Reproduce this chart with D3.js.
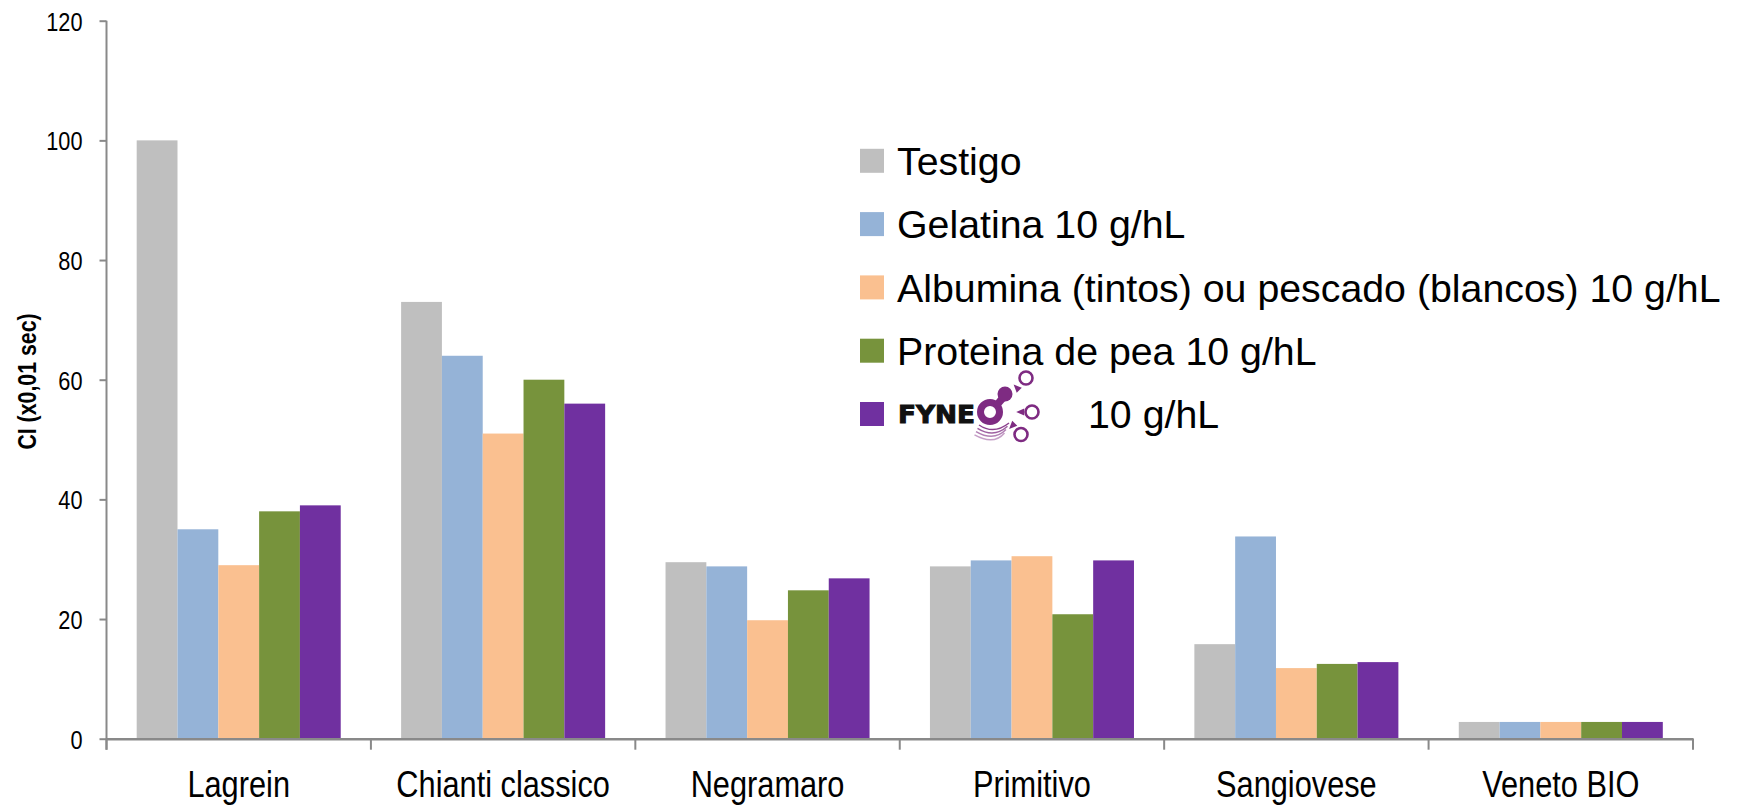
<!DOCTYPE html>
<html>
<head>
<meta charset="utf-8">
<script src="https://cdn.jsdelivr.net/npm/d3@7"></script>
<style>
  html, body { margin: 0; padding: 0; background: #fff; }
  svg { display: block; }
</style>
</head>
<body>
<svg id="chart" width="1741" height="805"></svg>
<script>
// Wine varieties on the x axis
const categories = ["Lagrein", "Chianti classico", "Negramaro", "Primitivo", "Sangiovese", "Veneto BIO"];

// Fining treatments (series)
const seriesNames = [
  "Testigo",
  "Gelatina 10 g/hL",
  "Albumina (tintos) ou pescado (blancos) 10 g/hL",
  "Proteina de pea 10 g/hL",
  "FYNEO 10 g/hL"
];
const seriesColors = ["#BFBFBF", "#95B3D7", "#FAC090", "#77933C", "#7030A0"];

// CI values (x0,01 sec) per variety, one array per treatment
const testigo   = [100, 73, 29.5, 28.8, 15.8, 2.8];
const gelatina  = [35, 64, 28.8, 29.8, 33.8, 2.8];
const albumina  = [29, 51, 19.8, 30.5, 11.8, 2.8];
const proteina  = [38, 60, 24.8, 20.8, 12.5, 2.8];
const fyneo     = [39, 56, 26.8, 29.8, 12.8, 2.8];

const yTicks = [0, 20, 40, 60, 80, 100, 120];
const yTitle = "CI (x0,01 sec)";

const seriesValues = [testigo, gelatina, albumina, proteina, fyneo];

const svg = d3.select("#chart");
const plotLeft = 106.5, plotRight = 1693, plotTop = 20.7, plotBottom = 738.7;
const axisColor = "#898989";
const NARROW = 0.82; // horizontal squeeze giving a narrow sans face

const x0 = d3.scaleBand().domain(categories).range([plotLeft, plotRight]).paddingInner(0).paddingOuter(0);
const x1 = d3.scaleBand().domain(d3.range(seriesNames.length))
  .range([0, x0.bandwidth()]).paddingInner(0).paddingOuter(0.74);
const y = d3.scaleLinear().domain([0, 120]).range([plotBottom, plotTop]);

// Bars
const groups = svg.append("g").selectAll("g")
  .data(categories)
  .join("g")
  .attr("transform", d => `translate(${x0(d)},0)`);

groups.selectAll("rect")
  .data((c, ci) => seriesValues.map((vals, si) => ({ si, v: vals[ci] })))
  .join("rect")
  .attr("x", d => x1(d.si))
  .attr("width", x1.bandwidth())
  .attr("y", d => y(d.v))
  .attr("height", d => y(0) - y(d.v))
  .attr("fill", d => seriesColors[d.si]);

// Y axis
const yAxis = svg.append("g")
  .attr("transform", `translate(${plotLeft},0)`)
  .call(d3.axisLeft(y).tickValues(yTicks).tickSize(7).tickSizeOuter(0).tickFormat(d3.format("d")));
yAxis.select(".domain").remove();
yAxis.selectAll(".tick line").attr("stroke", axisColor).attr("stroke-width", 2);
yAxis.selectAll(".tick text")
  .attr("x", 0)
  .attr("dy", "0.36em")
  .attr("transform", `translate(-24,0) scale(${NARROW},1)`)
  .attr("fill", "#000")
  .style("font-family", "'Liberation Sans', Arial, sans-serif")
  .style("font-size", "26.5px");
svg.append("line")
  .attr("x1", plotLeft).attr("x2", plotLeft)
  .attr("y1", y(120)).attr("y2", plotBottom + 11)
  .attr("stroke", axisColor).attr("stroke-width", 2);

// X axis
const xAxis = svg.append("g")
  .attr("transform", `translate(0,${plotBottom})`)
  .call(d3.axisBottom(x0).tickSize(0).tickSizeOuter(0).tickPadding(0));
xAxis.select(".domain").attr("stroke", axisColor).attr("stroke-width", 2.4);
xAxis.selectAll(".tick text")
  .attr("y", 0).attr("dy", 0)
  .attr("transform", `translate(0,58) scale(${NARROW},1)`)
  .attr("fill", "#000")
  .style("font-family", "'Liberation Sans', Arial, sans-serif")
  .style("font-size", "37.5px");
// boundary ticks between varieties
xAxis.append("g").selectAll("line")
  .data(categories.map(c => x0(c)).concat([plotRight]))
  .join("line")
  .attr("x1", d => d).attr("x2", d => d)
  .attr("y1", 0).attr("y2", 11)
  .attr("stroke", axisColor).attr("stroke-width", 2);

// Y axis title
svg.append("text")
  .attr("transform", `translate(35.5,381.5) rotate(-90) scale(${NARROW},1)`)
  .attr("text-anchor", "middle")
  .style("font-family", "'Liberation Sans', Arial, sans-serif")
  .style("font-weight", "bold")
  .style("font-size", "26px")
  .text(yTitle);

// Legend
const legend = svg.append("g").attr("transform", "translate(860,0)");
const rowY = d3.scaleLinear().domain([0, seriesNames.length - 1]).range([160.8, 414]);
seriesNames.forEach((name, i) => {
  const cy = rowY(i);
  legend.append("rect")
    .attr("x", 0).attr("y", cy - 12)
    .attr("width", 24).attr("height", 24)
    .attr("fill", seriesColors[i]);
  if (i < seriesNames.length - 1) {
    legend.append("text")
      .attr("x", 37).attr("y", cy + 14.3)
      .style("font-family", "'Liberation Sans', Arial, sans-serif")
      .style("font-size", "39.3px")
      .text(name);
  }
});

// FYNEO mark + dose in the last legend row
const lastY = rowY(seriesNames.length - 1);
const logo = svg.append("g").attr("transform", `translate(0,${lastY})`);
const logoPurple = "#7E2B82";
logo.append("text")
  .attr("x", 898).attr("y", 9)
  .attr("textLength", 77).attr("lengthAdjust", "spacingAndGlyphs")
  .style("font-family", "'DejaVu Sans', 'Liberation Sans', sans-serif")
  .style("font-weight", "bold")
  .style("font-size", "24px")
  .attr("stroke", "#111").attr("stroke-width", 1)
  .attr("fill", "#111")
  .text("FYNE");
// ring with attached ball
logo.append("circle").attr("cx", 990).attr("cy", -2).attr("r", 9.5)
  .attr("fill", "none").attr("stroke", logoPurple).attr("stroke-width", 7);
logo.append("path")
  .attr("d", "M993,-10 L1001,-20 L1007,-15 L999,-6 Z")
  .attr("fill", logoPurple);
logo.append("circle").attr("cx", 1005).attr("cy", -20).attr("r", 7.5).attr("fill", logoPurple);
// small rings and arrowheads
[[1026, -36, 1017, -26, 1], [1032, -2, 1021, -2, 0], [1021, 20.5, 1012.5, 11.5, -1]].forEach(([cx, cy, tx, ty, dir]) => {
  logo.append("circle").attr("cx", cx).attr("cy", cy).attr("r", 6.5)
    .attr("fill", "none").attr("stroke", logoPurple).attr("stroke-width", 2.6);
  const a = dir === 1 ? Math.PI * 0.75 : dir === 0 ? Math.PI : Math.PI * 1.25;
  const s = 4.8;
  const p1 = [tx + Math.cos(a) * s, ty - Math.sin(a) * s];
  const p2 = [tx + Math.cos(a + 2.3) * s, ty - Math.sin(a + 2.3) * s];
  const p3 = [tx + Math.cos(a - 2.3) * s, ty - Math.sin(a - 2.3) * s];
  logo.append("path").attr("d", `M${p1}L${p2}L${p3}Z`).attr("fill", logoPurple);
});
// motion arcs under the ring
[0, 1, 2, 3].forEach(k => {
  logo.append("path")
    .attr("d", `M${979 - k * 1.5},${11 + k * 3.3} Q${994},${21 + k * 3.5} ${1009 - k * 1.5},${9 + k * 3.3}`)
    .attr("fill", "none").attr("stroke", logoPurple).attr("stroke-width", 1.5).attr("opacity", 0.9 - k * 0.15);
});
logo.append("text")
  .attr("x", 1088).attr("y", 14.3)
  .style("font-family", "'Liberation Sans', Arial, sans-serif")
  .style("font-size", "39.3px")
  .text("10 g/hL");
</script>
</body>
</html>
